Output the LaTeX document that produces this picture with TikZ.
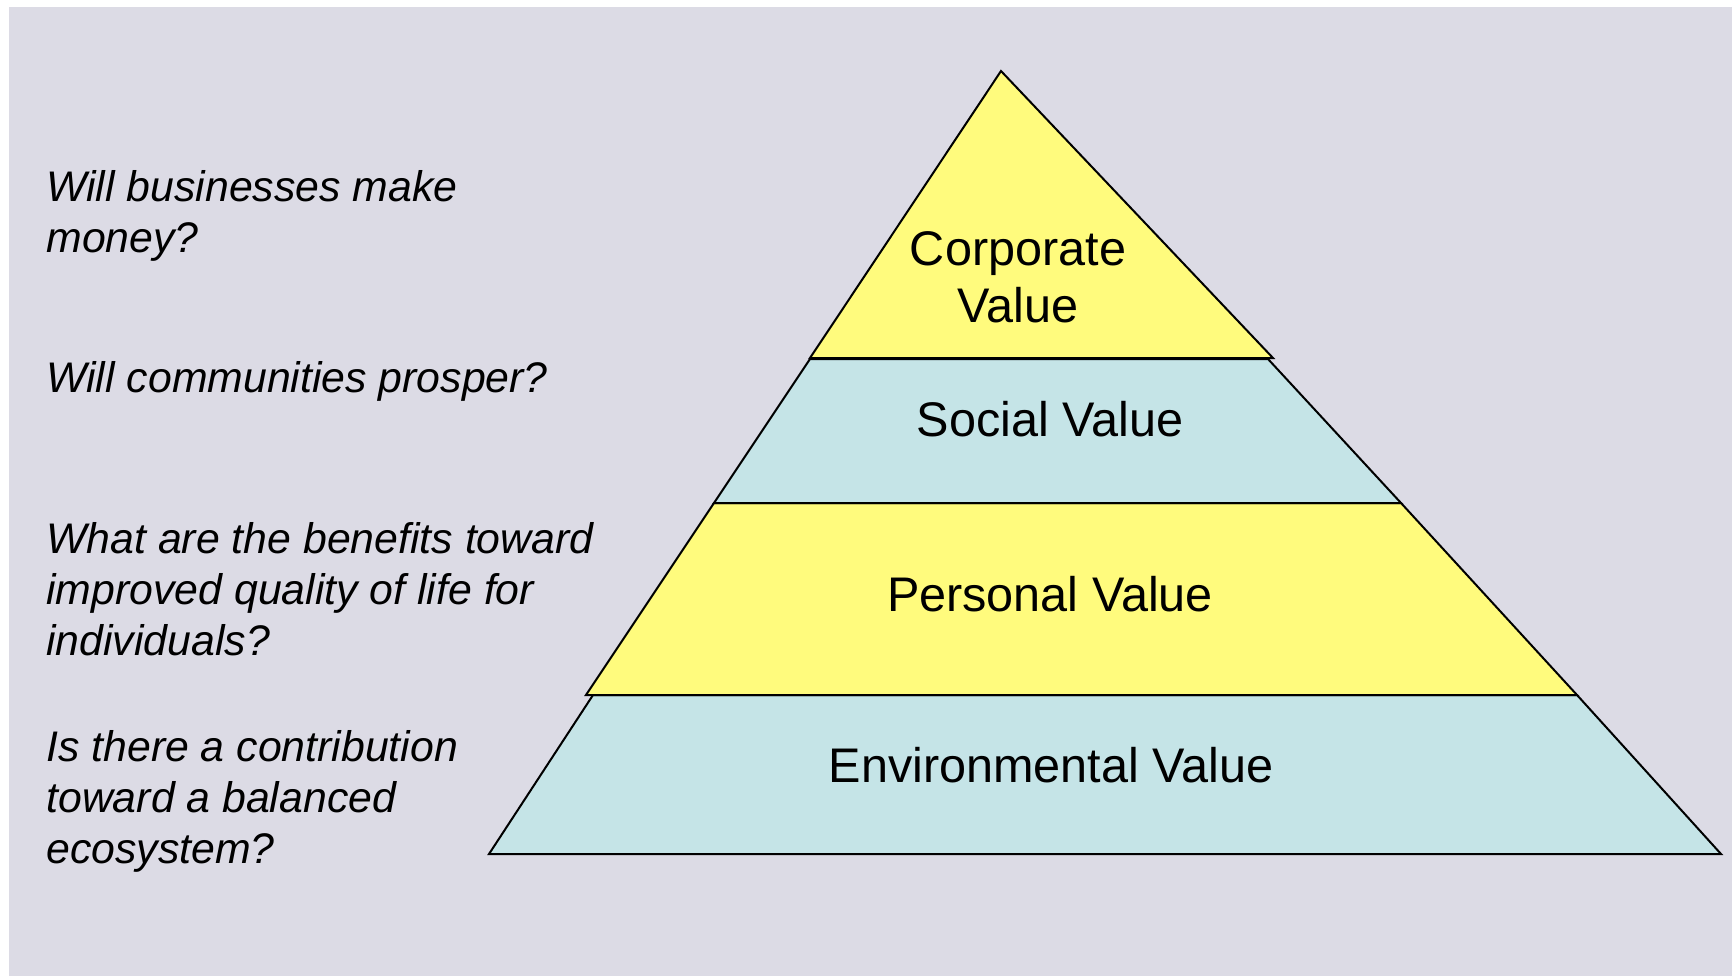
\documentclass[tikz,border=0pt]{standalone}
\usepackage{fontspec}
\setmainfont{Liberation Sans}
\definecolor{bgcol}{RGB}{220,219,229}
\definecolor{yellowcol}{RGB}{255,251,125}
\definecolor{bluecol}{RGB}{197,228,231}
\tikzset{
  layer/.style={draw=black, line width=1pt, line join=miter},
  question/.style={anchor=base west, align=left, inner sep=0pt,
    font={\fontsize{21.4}{25.5}\selectfont\itshape}},
  levellabel/.style={anchor=base, align=center, inner sep=0pt,
    font={\fontsize{24.3}{28.5}\selectfont}}
}
\begin{document}
\begin{tikzpicture}[x=0.5pt,y=-0.5pt]
\useasboundingbox (0,0) rectangle (1732,976);
\fill[white] (0,0) rectangle (1732,976);
\fill[bgcol] (9,7) rectangle (1732,976);
% pyramid layers
\filldraw[layer, fill=bluecol] (593,695) -- (1577,695) -- (1721,854) -- (489,854) -- cycle;
\filldraw[layer, fill=yellowcol] (714,503) -- (1401,503) -- (1577,695) -- (586,695) -- cycle;
\filldraw[layer, fill=bluecol] (810,359) -- (1268,359) -- (1401,503) -- (714,503) -- cycle;
\filldraw[layer, fill=yellowcol] (1001,71) -- (1273,358) -- (810,358) -- cycle;
% level labels (base anchor = last line's baseline)
\node[levellabel] (corp) at (1018,322) {Corporate\\Value};
\node[levellabel] (soc) at (1050,436) {Social Value};
\node[levellabel] (pers) at (1050,611) {Personal Value};
\node[levellabel] (env) at (1051,782) {Environmental Value};
% questions (base anchor = last line's baseline)
\node[question] (q1) at (46,252) {Will businesses make\\money?};
\node[question] (q2) at (46,392) {Will communities prosper?};
\node[question] (q3) at (46,655) {What are the benefits toward\\improved quality of life for\\individuals?};
\node[question] (q4) at (46,863) {Is there a contribution\\toward a balanced\\ecosystem?};
\end{tikzpicture}
\end{document}
